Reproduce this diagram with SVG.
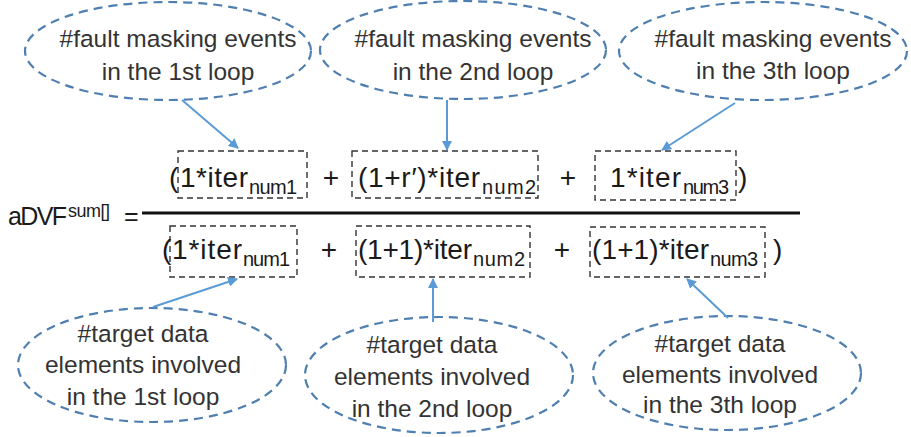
<svg xmlns="http://www.w3.org/2000/svg" width="911" height="437" viewBox="0 0 911 437">
<style>
.ell{fill:none;stroke:#4f7fb0;stroke-width:2.2;stroke-dasharray:9 6}
.lbl{font-family:"Liberation Sans",Arial,sans-serif;font-size:24.5px;fill:#333;text-anchor:middle}
.eq{font-family:"Liberation Sans",Arial,sans-serif;font-size:28px;fill:#1a1a1a}
.sub{font-family:"Liberation Sans",Arial,sans-serif;font-size:20px;fill:#1a1a1a}
.box{fill:none;stroke:#333;stroke-width:1.4;stroke-dasharray:6 4}
.arr{stroke:#5b9bd5;stroke-width:2;fill:none;marker-end:url(#ah)}
</style>
<defs>
<marker id="ah" viewBox="0 0 10 10" refX="9" refY="5" markerWidth="5" markerHeight="5" orient="auto" markerUnits="strokeWidth">
<path d="M0,0 L10,5 L0,10 z" fill="#5b9bd5"/>
</marker>
</defs>
<rect width="911" height="437" fill="#fff"/>

<g id="top1">
<ellipse class="ell" cx="168" cy="51" rx="143" ry="49"/>
<text class="lbl" x="178" y="47">#fault masking events</text>
<text class="lbl" x="178" y="80">in the 1st loop</text>
</g>
<g id="top2">
<ellipse class="ell" cx="463" cy="50" rx="143" ry="49"/>
<text class="lbl" x="473" y="47">#fault masking events</text>
<text class="lbl" x="473" y="80">in the 2nd loop</text>
</g>
<g id="top3">
<ellipse class="ell" cx="763" cy="51" rx="144" ry="49"/>
<text class="lbl" x="773" y="47">#fault masking events</text>
<text class="lbl" x="773" y="79">in the 3th loop</text>
</g>

<g id="bot1">
<ellipse class="ell" cx="152" cy="365" rx="134" ry="57"/>
<text class="lbl" x="143" y="342">#target data</text>
<text class="lbl" x="143" y="373">elements involved</text>
<text class="lbl" x="143" y="405">in the 1st loop</text>
</g>
<g id="bot2">
<ellipse class="ell" cx="439" cy="375" rx="134" ry="58"/>
<text class="lbl" x="432" y="353">#target data</text>
<text class="lbl" x="432" y="385">elements involved</text>
<text class="lbl" x="432" y="417">in the 2nd loop</text>
</g>
<g id="bot3">
<ellipse class="ell" cx="727" cy="373" rx="134" ry="57"/>
<text class="lbl" x="720" y="352">#target data</text>
<text class="lbl" x="720" y="383">elements involved</text>
<text class="lbl" x="720" y="413">in the 3th loop</text>
</g>

<g id="formula">
<text class="eq" x="8" y="225" style="font-size:25px" textLength="59">aDVF</text>
<text class="sub" x="68" y="217" style="font-size:18px" textLength="42">sum[]</text>
<text class="eq" x="124" y="225" style="font-size:25px">=</text>
<line x1="142" y1="213" x2="800" y2="213" stroke="#111" stroke-width="3"/>

<g id="num1">
<rect class="box" x="178" y="151" width="129" height="47"/>
<text class="eq" x="169" y="187">(</text>
<text class="eq" x="180" y="187" textLength="68">1*iter</text>
<text class="sub" x="249" y="194" textLength="48">num1</text>
</g>
<text class="eq" x="331" y="187" text-anchor="middle">+</text>
<g id="num2">
<rect class="box" x="352" y="151" width="186" height="47"/>
<text class="eq" x="358" y="187" textLength="122">(1+r′)*iter</text>
<text class="sub" x="482" y="194" textLength="54">num2</text>
</g>
<text class="eq" x="568" y="187" text-anchor="middle">+</text>
<g id="num3">
<rect class="box" x="595" y="151" width="141" height="49"/>
<text class="eq" x="610" y="187" textLength="71">1*iter</text>
<text class="sub" x="683" y="194" textLength="46">num3</text>
<text class="eq" x="738" y="187">)</text>
</g>

<g id="den1">
<rect class="box" x="170" y="226" width="127" height="51"/>
<text class="eq" x="162" y="259">(</text>
<text class="eq" x="172" y="259" textLength="70">1*iter</text>
<text class="sub" x="243" y="266" textLength="47">num1</text>
</g>
<text class="eq" x="329" y="259" text-anchor="middle">+</text>
<g id="den2">
<rect class="box" x="356" y="226" width="174" height="51"/>
<text class="eq" x="358" y="259" textLength="114">(1+1)*iter</text>
<text class="sub" x="473" y="266" textLength="52">num2</text>
</g>
<text class="eq" x="562" y="259" text-anchor="middle">+</text>
<g id="den3">
<rect class="box" x="590" y="227" width="175" height="50"/>
<text class="eq" x="592" y="259" textLength="117">(1+1)*iter</text>
<text class="sub" x="710" y="266" textLength="48">num3</text>
<text class="eq" x="773" y="259">)</text>
</g>
</g>

<g id="connectors">
<line class="arr" x1="182" y1="100" x2="238" y2="148"/>
<line class="arr" x1="447" y1="100" x2="447" y2="150"/>
<line class="arr" x1="735" y1="103" x2="662" y2="150"/>
<line class="arr" x1="153" y1="307" x2="237" y2="279"/>
<line class="arr" x1="433" y1="322" x2="433" y2="279"/>
<line class="arr" x1="728" y1="318" x2="687" y2="279"/>
</g>
</svg>
